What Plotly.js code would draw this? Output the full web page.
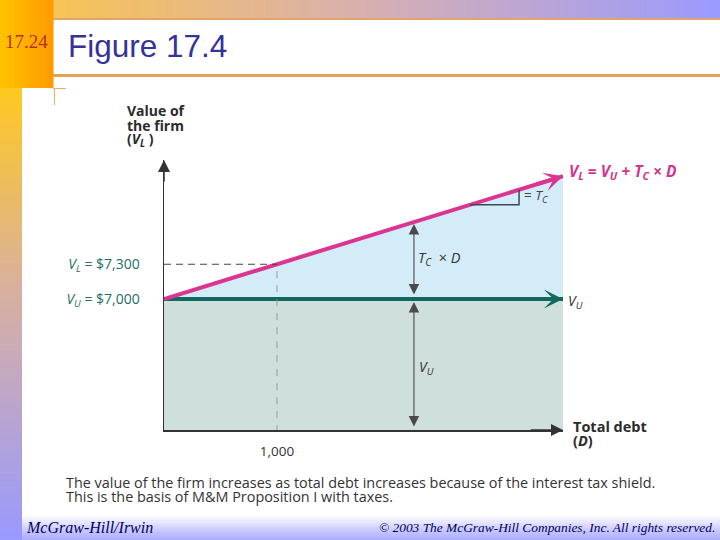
<!DOCTYPE html>
<html>
<head>
<meta charset="utf-8">
<script src="https://cdn.plot.ly/plotly-3.0.1.min.js"></script>
<style>html,body{margin:0;padding:0;background:#fff;}#chart{width:720px;height:540px;}</style>
</head>
<body>
<div id="chart"></div>
<script>
// ---- data ----
const debt = [0, 1000, 3531];
const valueUnlevered = [7000, 7000, 7000];
const valueLevered = [7000, 7300, 8060];
const yTickVals = [7000, 7300];
const yTickLabels = ['<i>V</i><sub><i>U</i></sub> = $7,000', '<i>V</i><sub><i>L</i></sub> = $7,300'];
const xTickVals = [1000];
const xTickLabels = ['1,000'];
const captionLines = [
  'The value of the firm increases as total debt increases because of the interest tax shield.',
  'This is the basis of M&M Proposition I with taxes.'
];

// ---- layout helpers ----
const L = 164, R = 157, T = 160, B = 110, W = 720, H = 540;
const pw = W - L - R, ph = H - T - B;
const px = x => (x - L) / pw;
const py = y => (H - B - y) / ph;
const xMax = debt[debt.length - 1];
const yMin = 5869, yMax = 8200;
function vlAt(d) {
  for (let i = 1; i < debt.length; i++) {
    if (d <= debt[i]) {
      const t = (d - debt[i-1]) / (debt[i] - debt[i-1]);
      return valueLevered[i-1] + t * (valueLevered[i] - valueLevered[i-1]);
    }
  }
  return valueLevered[valueLevered.length - 1];
}
function hex(c){return [parseInt(c.slice(1,3),16),parseInt(c.slice(3,5),16),parseInt(c.slice(5,7),16)];}
function mix(stops, t){
  for (let i=1;i<stops.length;i++){
    if (t<=stops[i][0]){
      const a=hex(stops[i-1][1]), b=hex(stops[i][1]);
      const u=(t-stops[i-1][0])/(stops[i][0]-stops[i-1][0]);
      return 'rgb('+a.map((v,k)=>Math.round(v+(b[k]-v)*u)).join(',')+')';
    }
  }
  return stops[stops.length-1][1];
}
const shapes = [];
function rect(x0,y0,x1,y1,color,layer){
  shapes.push({type:'rect',xref:'paper',yref:'paper',x0:px(x0),x1:px(x1),y0:py(y1),y1:py(y0),
    fillcolor:color,line:{width:0},layer:layer||'below'});
}
function hgrad(x0,y0,x1,y1,stops,n){
  for(let i=0;i<n;i++){const a=x0+(x1-x0)*i/n, b=x0+(x1-x0)*(i+1)/n+0.6;
    rect(a,y0,b,y1,mix(stops,(i+0.5)/n));}
}
function vgrad(x0,y0,x1,y1,stops,n){
  for(let i=0;i<n;i++){const a=y0+(y1-y0)*i/n, b=y0+(y1-y0)*(i+1)/n+0.6;
    rect(x0,a,x1,b,mix(stops,(i+0.5)/n));}
}
// slide decoration
hgrad(53,0,720,18,[[0,'#f8c455'],[0.45,'#d9b0ad'],[1,'#9a9aff']],60);
rect(53,18,720,20,'#e2a46a');
hgrad(0,0,53,88,[[0,'#ffc400'],[1,'#ff9a00']],12);
vgrad(0,88,22,540,[[0,'#ffc820'],[0.45,'#d8b0a0'],[1,'#9999ff']],60);
vgrad(22,515,720,540,[[0,'#ffffff'],[1,'#a8a8ff']],14);
rect(53,74,720,77,'#e4a458');
rect(53,88,66,89,'#e4b070');
rect(54,88,55,105,'#e4b070');

// chart guide lines (data coordinates)
shapes.push({type:'line',xref:'x',yref:'y',x0:0,x1:xTickVals[0],y0:yTickVals[1],y1:yTickVals[1],
  line:{color:'#444',width:1,dash:'7px,5px'}});
shapes.push({type:'line',xref:'x',yref:'y',x0:xTickVals[0],x1:xTickVals[0],y0:yTickVals[1]-60,y1:yMin,
  line:{color:'#9a9a9a',width:1,dash:'7px,7px'}});
const tri0 = 2708, tri1 = 3142;
shapes.push({type:'path',xref:'x',yref:'y',
  path:`M ${tri0},${vlAt(tri0)} L ${tri1},${vlAt(tri0)} L ${tri1},${vlAt(tri1)}`,
  line:{color:'#3a4a5a',width:1.5}});

const traces = [
  {x:debt,y:valueUnlevered,mode:'lines',fill:'tozeroy',fillcolor:'#cfe0dc',line:{width:0},hoverinfo:'skip'},
  {x:debt,y:valueLevered,mode:'lines',fill:'tonexty',fillcolor:'#d4ebf8',line:{width:0},hoverinfo:'skip'},
  {x:debt,y:valueUnlevered,mode:'lines',line:{color:'#10685e',width:4},hoverinfo:'skip'},
  {x:debt,y:valueLevered,mode:'lines',line:{color:'#dc3591',width:4},hoverinfo:'skip'}
];

const F = 'Open Sans, Noto Sans, sans-serif';
const ann = [];
function arrow(x,y,ax,ay,color,width,size,opts){
  ann.push(Object.assign({x:x,y:y,ax:ax,ay:ay,xref:'x',yref:'y',axref:'x',ayref:'y',text:'',
    showarrow:true,arrowhead:3,arrowsize:size,arrowwidth:width,arrowcolor:color},opts||{}));
}
// line ends
arrow(xMax, valueUnlevered[2], xMax-250, valueUnlevered[2], '#10685e', 4, 0.8);
arrow(xMax, valueLevered[2], xMax-250, vlAt(xMax-250), '#dc3591', 4, 0.8);
// axes
arrow(0, yMax, 0, yMax-200, '#333', 1.5, 1.6, {arrowhead:2});
arrow(xMax, yMin, xMax-300, yMin, '#333', 1.5, 1.6, {arrowhead:2});
// double arrows
const dMid = 2212;
arrow(dMid, vlAt(dMid), dMid, valueUnlevered[0], '#4a4a4a', 1.1, 1.9, {arrowhead:2,arrowside:'end+start',startarrowhead:2,startarrowsize:1.9,standoff:2,startstandoff:3});
arrow(dMid, valueUnlevered[0], dMid, yMin, '#4a4a4a', 1.1, 1.9, {arrowhead:2,arrowside:'end+start',startarrowhead:2,startarrowsize:1.9,standoff:3,startstandoff:2});

function txt(x,y,text,size,color,opts){
  ann.push(Object.assign({xref:'paper',yref:'paper',x:px(x),y:py(y),text:text,showarrow:false,
    xanchor:'left',yanchor:'middle',align:'left',font:{family:F,size:size,color:color}},opts||{}));
}
txt(125,110,'<b>Value of</b>',14,'#2b2b2b');
txt(125,125,'<b>the firm</b>',14,'#2b2b2b');
txt(125,140,'<b>(<i>V</i><sub><i>L</i></sub> )</b>',14,'#2b2b2b');
txt(567,171,'<b><i>V<sub>L</sub></i> = <i>V<sub>U</sub></i> + <i>T<sub>C</sub></i> × <i>D</i></b>',15.5,'#d6338c');
txt(522,196,'= <i>T</i><sub><i>C</i></sub>',13.5,'#444');
txt(416,258,'<i>T</i><sub><i>C</i></sub>  × <i>D</i>',14.5,'#333');
txt(566,301,'<i>V</i><sub><i>U</i></sub>',14,'#333');
txt(417,367,'<i>V</i><sub><i>U</i></sub>',14,'#333');
txt(571,426,'<b>Total debt</b>',14.5,'#2b2b2b');
txt(571,440,'<b>(<i>D</i>)</b>',14.5,'#2b2b2b');
txt(64,482,captionLines[0],14.4,'#333');
txt(64,496,captionLines[1],14.4,'#333');
txt(66,46,'Figure 17.4',31.5,'#333399',{font:{family:'Liberation Sans, Arial, sans-serif',size:31.5,color:'#333399'}});
txt(3,42,'17.24',19,'#b8301a',{font:{family:'Liberation Serif, serif',size:19,color:'#b8301a'}});
txt(24,527,'<i>McGraw-Hill/Irwin</i>',16,'#000066',{font:{family:'Liberation Serif, serif',size:16,color:'#000066'}});
txt(717,527,'<i>© 2003 The McGraw-Hill Companies, Inc. All rights reserved.</i>',13.4,'#000066',
  {xanchor:'right',font:{family:'Liberation Serif, serif',size:13.4,color:'#000066'}});

const layout = {
  width:W,height:H,margin:{l:L,r:R,t:T,b:B},
  paper_bgcolor:'#ffffff',plot_bgcolor:'rgba(0,0,0,0)',
  showlegend:false,
  xaxis:{range:[0,xMax],showgrid:false,zeroline:false,showline:true,linecolor:'#333',linewidth:1.5,
    tickvals:xTickVals,ticktext:xTickLabels,ticks:'',ticklabelstandoff:8,
    tickfont:{family:F,size:13.5,color:'#333'},fixedrange:true},
  yaxis:{range:[yMin,yMax],showgrid:false,zeroline:false,showline:true,linecolor:'#333',linewidth:1.5,
    tickvals:yTickVals,ticktext:yTickLabels,ticks:'',ticklabelstandoff:20,
    tickfont:{family:F,size:14,color:'#1f6e68'},fixedrange:true},
  shapes:shapes,
  annotations:ann
};
Plotly.newPlot('chart',traces,layout,{staticPlot:true,displayModeBar:false});
</script>
</body>
</html>
